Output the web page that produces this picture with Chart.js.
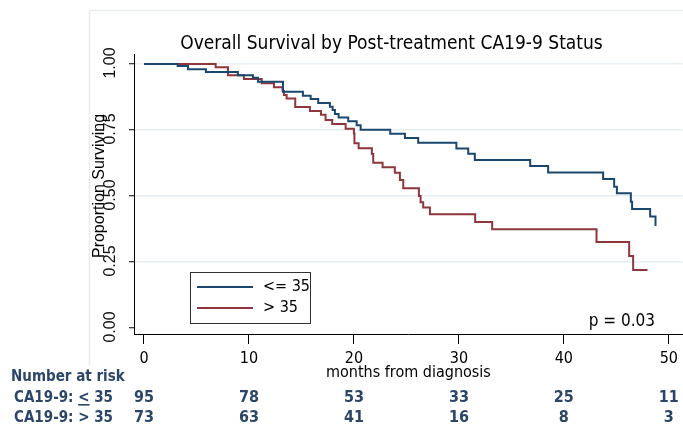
<!DOCTYPE html>
<html>
<head>
<meta charset="utf-8">
<title>Overall Survival by Post-treatment CA19-9 Status</title>
<script src="https://cdn.jsdelivr.net/npm/chart.js@4.4.1/dist/chart.umd.min.js"></script>
<style>
    html, body { margin: 0; padding: 0; background: #ffffff; }
    #km { display: block; }
</style>
</head>
<body>
<canvas id="km" width="683" height="426"></canvas>
<script>
// Kaplan-Meier steps (months, proportion surviving)
const lowTimes = [0, 3.21, 4.19, 5.90, 8.95, 10.38, 10.86, 13.24, 15.14, 15.88, 16.6, 17.71, 17.97, 18.19, 18.54, 19.46, 20.26, 20.64, 23.46, 24.86, 26.12, 29.76, 30.89, 31.52, 36.79, 38.5, 43.74, 44.79, 45.05, 46.38, 46.5, 48.22, 48.73];
const lowSurv = [1, 0.992, 0.980, 0.970, 0.957, 0.948, 0.933, 0.895, 0.880, 0.867, 0.852, 0.838, 0.826, 0.811, 0.797, 0.783, 0.768, 0.751, 0.736, 0.720, 0.702, 0.680, 0.660, 0.636, 0.614, 0.589, 0.564, 0.535, 0.510, 0.478, 0.451, 0.422, 0.386];

const highTimes = [0, 6.83, 8.0, 9.52, 11.21, 12.38, 13.21, 13.33, 13.59, 14.41, 15.81, 16.86, 17.3, 17.93, 19.21, 20.0, 20.05, 20.45, 21.71, 21.84, 22.73, 23.9, 24.38, 24.7, 26.19, 26.35, 26.6, 27.24, 31.55, 33.17, 43.11, 46.22, 46.6, 47.97];
const highSurv = [1, 0.988, 0.957, 0.943, 0.927, 0.912, 0.898, 0.883, 0.869, 0.837, 0.822, 0.808, 0.788, 0.773, 0.755, 0.737, 0.700, 0.681, 0.659, 0.626, 0.609, 0.588, 0.561, 0.529, 0.500, 0.476, 0.456, 0.431, 0.402, 0.374, 0.326, 0.273, 0.220, 0.220];

const seriesLabels = ["<= 35", "> 35"];

const xTicks = [0, 10, 20, 30, 40, 50];
const yTicks = [0, 0.25, 0.5, 0.75, 1];
const yTickLabels = ["0.00", "0.25", "0.50", "0.75", "1.00"];

// number at risk table
const riskTimes = [0, 10, 20, 30, 40, 50];
const riskLow = [95, 78, 53, 33, 25, 11];
const riskHigh = [73, 63, 41, 16, 8, 3];

const BLUE = "#1a476f";
const RED = "#90353b";
const TABLE_BLUE = "#2b4668";
const NARROW = "'Liberation Sans Narrow', 'DejaVu Sans Condensed', 'Arial Narrow', sans-serif";
const REGULAR = "'Liberation Sans', Arial, sans-serif";

Chart.defaults.font.family = NARROW;
Chart.defaults.color = "#000000";

function toPoints(times, surv) {
    return times.map((t, i) => ({ x: t, y: surv[i] }));
}

const extrasPlugin = {
    id: "kmExtras",
    beforeDraw(chart) {
        const { ctx } = chart;
        ctx.save();
        ctx.strokeStyle = "#e8eef0";
        ctx.lineWidth = 1.5;
        ctx.beginPath();
        ctx.moveTo(89.5, 366);
        ctx.lineTo(89.5, 10.5);
        ctx.lineTo(683, 10.5);
        ctx.stroke();
        ctx.restore();
    },
    afterDraw(chart) {
        const { ctx } = chart;
        const x = chart.scales.x;
        const y = chart.scales.y;

        ctx.save();

        // y tick labels, rotated like the original
        ctx.fillStyle = "#111111";
        ctx.font = "16px " + REGULAR;
        ctx.textAlign = "center";
        ctx.textBaseline = "middle";
        yTicks.forEach((v, i) => {
            ctx.save();
            ctx.translate(111, y.getPixelForValue(v) - 1);
            ctx.rotate(-Math.PI / 2);
            ctx.fillText(yTickLabels[i], 0, 0);
            ctx.restore();
        });

        // y axis title
        ctx.save();
        ctx.font = "16px " + REGULAR;
        ctx.fillStyle = "#000000";
        ctx.translate(100, y.getPixelForValue(0.5) - 10);
        ctx.rotate(-Math.PI / 2);
        ctx.fillText("Proportion Surviving", 0, 0);
        ctx.restore();

        // legend box
        ctx.fillStyle = "#ffffff";
        ctx.fillRect(190.5, 272.5, 120, 51);
        ctx.strokeStyle = "#333333";
        ctx.lineWidth = 1;
        ctx.strokeRect(190.5, 272.5, 120, 51);
        const legendRows = [{ color: BLUE, y: 287 }, { color: RED, y: 308 }];
        ctx.font = "16px " + NARROW;
        ctx.textAlign = "left";
        legendRows.forEach((row, i) => {
            ctx.strokeStyle = row.color;
            ctx.lineWidth = 2;
            ctx.beginPath();
            ctx.moveTo(197, row.y);
            ctx.lineTo(253, row.y);
            ctx.stroke();
            ctx.fillStyle = "#000000";
            ctx.fillText(seriesLabels[i], 263, row.y);
        });

        // p value
        ctx.font = "17px " + NARROW;
        ctx.textAlign = "right";
        ctx.fillText("p = 0.03", 655, 322);

        // number at risk
        ctx.fillStyle = TABLE_BLUE;
        ctx.font = "bold 15px " + NARROW;
        ctx.textAlign = "left";
        ctx.fillText("Number at risk", 11, 377);

        const rowY = [398, 418];
        const prefix = "CA19-9: ";
        let px = 14;
        ctx.fillText(prefix, px, rowY[0]);
        px += ctx.measureText(prefix).width;
        const ltW = ctx.measureText("<").width;
        ctx.fillText("<", px, rowY[0]);
        ctx.fillRect(px, rowY[0] + 6, ltW, 1.6);
        ctx.fillText(" 35", px + ltW, rowY[0]);
        ctx.fillText("CA19-9: > 35", 14, rowY[1]);

        ctx.font = "bold 16px " + NARROW;
        ctx.textAlign = "center";
        riskTimes.forEach((t, i) => {
            const cx = x.getPixelForValue(t);
            ctx.fillText(String(riskLow[i]), cx, rowY[0]);
            ctx.fillText(String(riskHigh[i]), cx, rowY[1]);
        });

        ctx.restore();
    }
};

new Chart(document.getElementById("km"), {
    type: "line",
    data: {
        datasets: [
            {
                label: seriesLabels[0],
                data: toPoints(lowTimes, lowSurv),
                borderColor: BLUE,
                borderWidth: 2,
                stepped: "before",
                pointRadius: 0,
                fill: false
            },
            {
                label: seriesLabels[1],
                data: toPoints(highTimes, highSurv),
                borderColor: RED,
                borderWidth: 2,
                stepped: "before",
                pointRadius: 0,
                fill: false
            }
        ]
    },
    options: {
        responsive: false,
        animation: false,
        devicePixelRatio: 1,
        layout: {
            padding: { left: 100, top: 0, right: 0, bottom: 0 }
        },
        plugins: {
            legend: { display: false },
            tooltip: { enabled: false },
            title: {
                display: true,
                text: "Overall Survival by Post-treatment CA19-9 Status",
                color: "#000000",
                font: { size: 19, weight: "normal", lineHeight: 1 },
                padding: { top: 34.5, bottom: 0.5 }
            }
        },
        scales: {
            x: {
                type: "linear",
                min: -0.95,
                max: 51.33,
                afterBuildTicks: (scale) => {
                    scale.ticks = xTicks.map((v) => ({ value: v }));
                },
                afterFit: (scale) => {
                    scale.height = 92;
                },
                ticks: {
                    color: "#000000",
                    font: { size: 16 },
                    padding: 5,
                    maxRotation: 0,
                    callback: (v) => String(v)
                },
                grid: {
                    drawOnChartArea: false,
                    drawTicks: true,
                    tickLength: 10,
                    tickColor: "#000000",
                    tickWidth: 1
                },
                border: { display: true, color: "#000000", width: 1 },
                title: {
                    display: true,
                    text: "months from diagnosis",
                    color: "#000000",
                    font: { size: 16 },
                    padding: { top: 0, bottom: 44 }
                }
            },
            y: {
                type: "linear",
                min: -0.0227,
                max: 1.0379,
                afterBuildTicks: (scale) => {
                    scale.ticks = yTicks.map((v) => ({ value: v }));
                },
                afterFit: (scale) => {
                    scale.width = 34;
                },
                ticks: { display: false },
                grid: {
                    color: (ctx) => (ctx.tick && ctx.tick.value === 0 ? "rgba(0,0,0,0)" : "#e6eef1"),
                    lineWidth: 1.5,
                    drawTicks: true,
                    tickLength: 5,
                    tickColor: "#000000",
                    tickWidth: 1
                },
                border: { display: true, color: "#000000", width: 1 }
            }
        }
    },
    plugins: [extrasPlugin]
});
</script>
</body>
</html>
